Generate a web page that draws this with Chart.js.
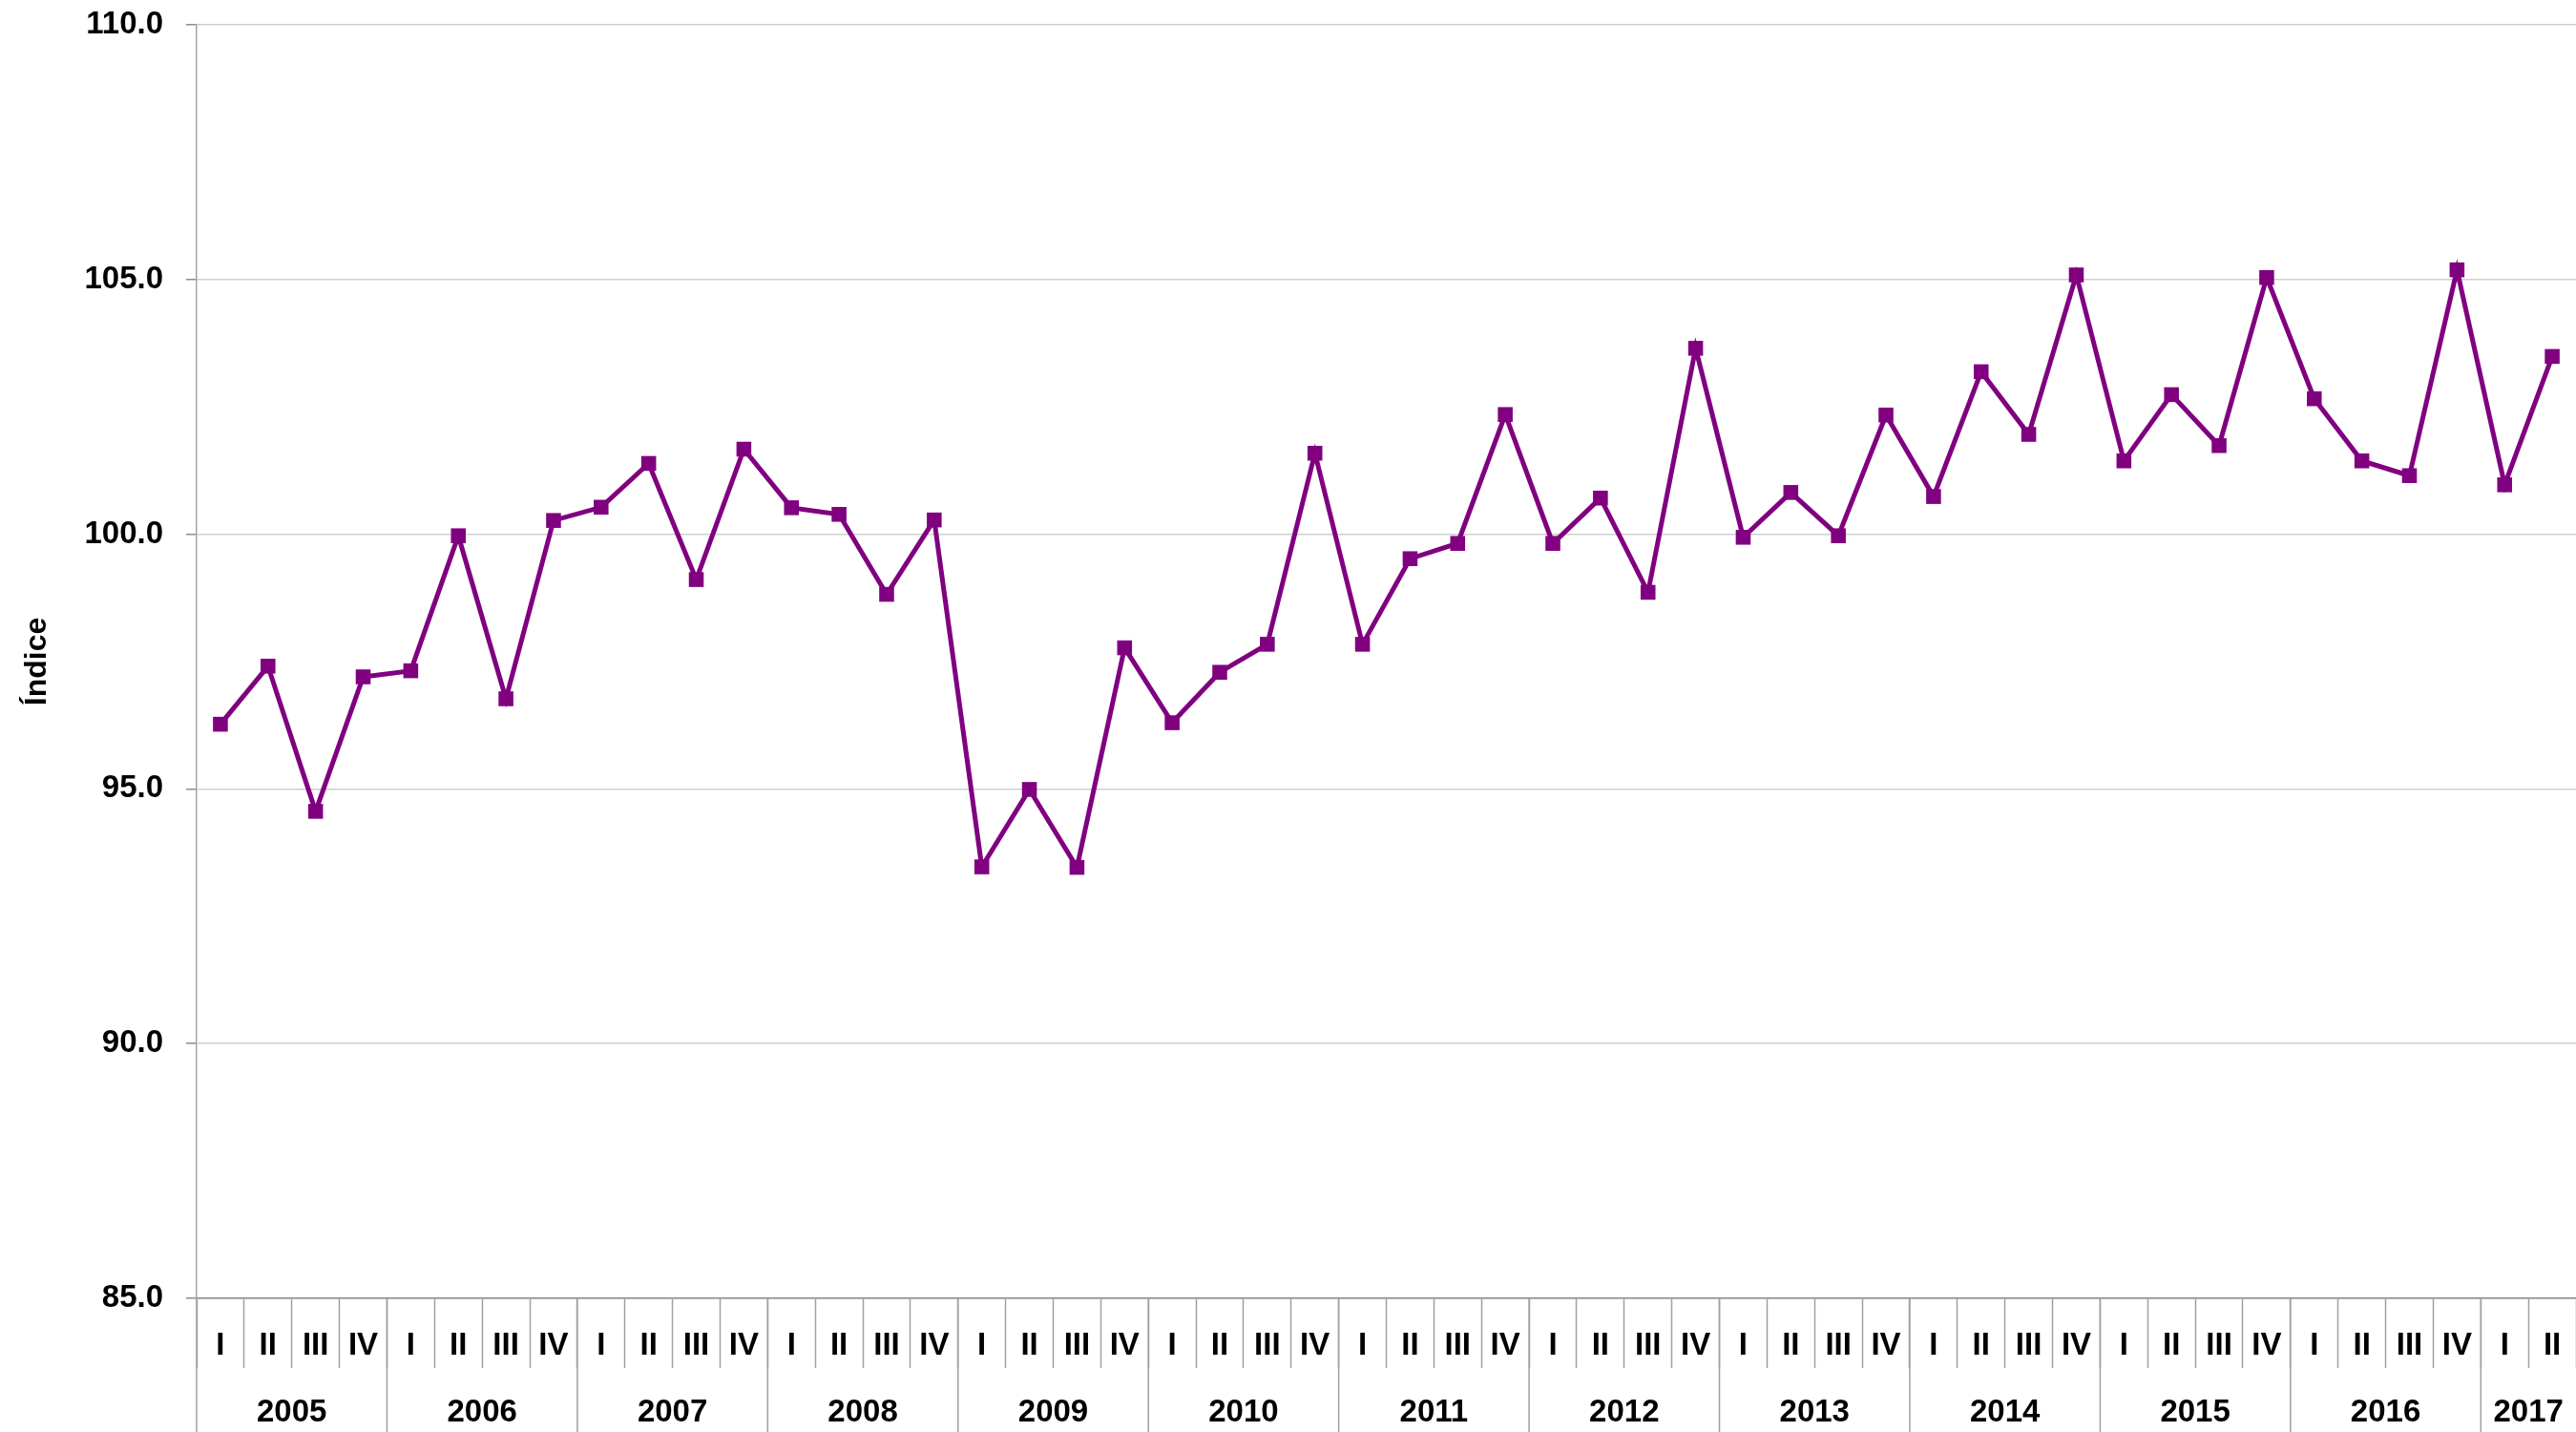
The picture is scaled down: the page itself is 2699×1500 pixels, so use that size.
<!DOCTYPE html>
<html>
<head>
<meta charset="utf-8">
<script src="https://cdn.jsdelivr.net/npm/chart.js@4.4.0/dist/chart.umd.min.js"></script>
<style>
  html, body { margin: 0; padding: 0; background: #ffffff; }
  #wrap { width: 2699px; height: 1500px; }
</style>
</head>
<body>
<div id="wrap"><canvas id="c" width="2699" height="1500"></canvas></div>
<script>
const years = ['2005','2006','2007','2008','2009','2010','2011','2012','2013','2014','2015','2016','2017'];
const quartersInYear = [4,4,4,4,4,4,4,4,4,4,4,4,2];
const quarterNames = ['I','II','III','IV'];
const indexValues = [
  96.27, 97.41, 94.56, 97.20,
  97.32, 99.97, 96.77, 100.27,
  100.53, 101.39, 99.11, 101.67,
  100.52, 100.39, 98.82, 100.28,
  93.47, 94.99, 93.46, 97.77,
  96.30, 97.29, 97.84, 101.59,
  97.84, 99.52, 99.82, 102.35,
  99.82, 100.71, 98.86, 103.65,
  99.94, 100.82, 99.97, 102.34,
  100.74, 103.19, 101.96, 105.09,
  101.44, 102.74, 101.74, 105.04,
  102.66, 101.44, 101.15, 105.19,
  100.97, 103.49
];
const yMin = 85, yMax = 110, yStep = 5;
const yTitle = 'Índice';

const quarterLabels = [];
years.forEach((y, i) => { for (let q = 0; q < quartersInYear[i]; q++) quarterLabels.push(quarterNames[q]); });

const FONT = "'Liberation Sans', Arial, sans-serif";
const TICK_SIZE = 33;

const yearPlugin = {
  id: 'yearRow',
  afterDraw(chart) {
    const xs = chart.scales.x;
    const ctx = chart.ctx;
    const half = (xs.getPixelForValue(1) - xs.getPixelForValue(0)) / 2;
    const bottom = chart.chartArea.bottom;
    ctx.save();
    ctx.strokeStyle = '#a0a0a0';
    ctx.lineWidth = 1.5;
    ctx.fillStyle = '#000000';
    ctx.font = 'bold ' + TICK_SIZE + 'px ' + FONT;
    ctx.textAlign = 'center';
    ctx.textBaseline = 'middle';
    let idx = 0;
    years.forEach((y, i) => {
      const first = idx, last = idx + quartersInYear[i] - 1;
      const sx = xs.getPixelForValue(first) - half;
      ctx.beginPath();
      ctx.moveTo(sx, bottom);
      ctx.lineTo(sx, chart.height);
      ctx.stroke();
      const cx = (xs.getPixelForValue(first) + xs.getPixelForValue(last)) / 2;
      ctx.fillText(y, cx, 1480);
      idx += quartersInYear[i];
    });
    ctx.restore();
  }
};

new Chart(document.getElementById('c'), {
  type: 'line',
  data: {
    labels: quarterLabels,
    datasets: [{
      data: indexValues,
      borderColor: '#800080',
      backgroundColor: '#800080',
      borderWidth: 5,
      tension: 0,
      pointStyle: 'rect',
      pointRadius: 11,
      pointHoverRadius: 11,
      pointBackgroundColor: '#800080',
      pointBorderColor: '#800080',
      pointBorderWidth: 0,
      clip: false
    }]
  },
  options: {
    responsive: false,
    devicePixelRatio: 1,
    animation: false,
    layout: { autoPadding: false, padding: { top: 26, right: 0, bottom: 0, left: 0 } },
    plugins: { legend: { display: false }, tooltip: { enabled: false } },
    scales: {
      x: {
        type: 'category',
        offset: true,
        afterFit(s) { s.height = 140; s.paddingLeft = 0; s.paddingRight = 0; },
        border: { display: true, color: '#8c8c8c', width: 1.5 },
        grid: {
          offset: true,
          drawOnChartArea: false,
          drawTicks: true,
          tickLength: 73,
          tickColor: '#a0a0a0',
          tickWidth: 1.5
        },
        ticks: {
          autoSkip: false,
          maxRotation: 0,
          minRotation: 0,
          padding: -43,
          color: '#000000',
          font: { family: FONT, size: TICK_SIZE, weight: 'bold' }
        }
      },
      y: {
        min: yMin,
        max: yMax,
        afterFit(s) { s.width = 206; s.paddingTop = 0; s.paddingBottom = 0; },
        border: { display: true, color: '#a6a6a6', width: 1.5 },
        grid: {
          color: '#cfcfcf',
          lineWidth: 1.5,
          tickLength: 11,
          tickColor: '#8c8c8c'
        },
        ticks: {
          stepSize: yStep,
          padding: 24,
          color: '#000000',
          font: { family: FONT, size: TICK_SIZE, weight: 'bold' },
          callback: v => Number(v).toFixed(1)
        },
        title: {
          display: true,
          text: yTitle,
          color: '#000000',
          font: { family: FONT, size: 32, weight: 'bold' },
          padding: { top: 20, bottom: 0 }
        }
      }
    }
  },
  plugins: [yearPlugin]
});
</script>
</body>
</html>
